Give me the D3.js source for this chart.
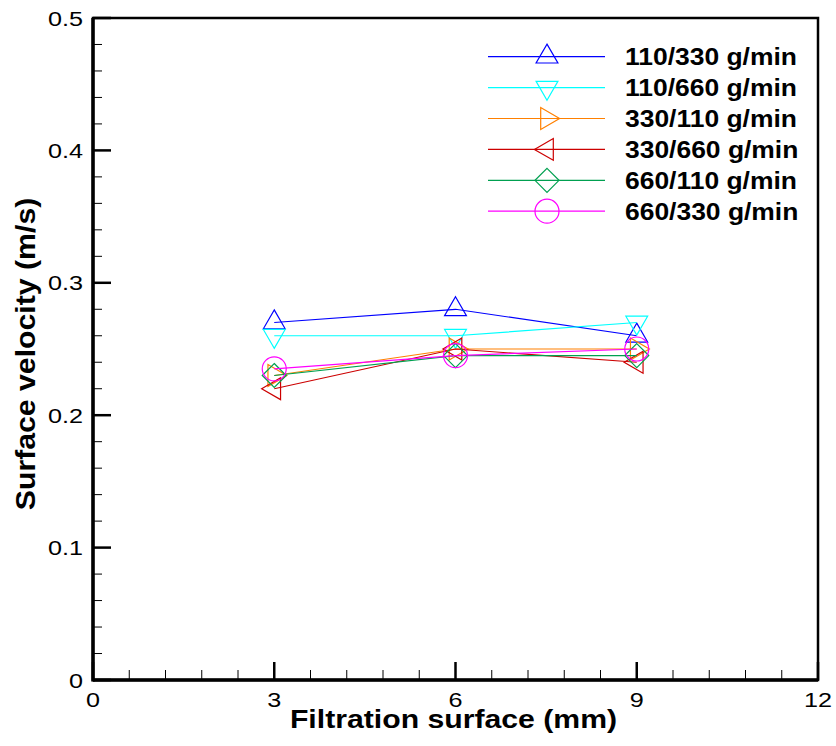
<!DOCTYPE html>
<html>
<head>
<meta charset="utf-8">
<script src="https://cdn.jsdelivr.net/npm/d3@7"></script>
<style>
  html, body { margin: 0; padding: 0; background: #fff; }
  svg { display: block; font-family: "Liberation Sans", Arial, sans-serif; }
</style>
</head>
<body>
<div id="chart"></div>
<script>
// Surface velocity vs filtration surface
const xValues   = [3, 6, 9];
const seriesNames = ["110/330 g/min", "110/660 g/min", "330/110 g/min", "330/660 g/min", "660/110 g/min", "660/330 g/min"];
const v110_330 = [0.27, 0.28, 0.26];
const v110_660 = [0.26, 0.26, 0.27];
const v330_110 = [0.23, 0.25, 0.25];
const v330_660 = [0.22, 0.25, 0.24];
const v660_110 = [0.23, 0.245, 0.245];
const v660_330 = [0.235, 0.245, 0.25];
const xTicks = [0, 3, 6, 9, 12];
const yTicks = [0, 0.1, 0.2, 0.3, 0.4, 0.5];

const seriesValues = [v110_330, v110_660, v330_110, v330_660, v660_110, v660_330];
const colors  = ["#0000ff", "#00ffff", "#ff8000", "#cc0000", "#00a050", "#ff00ff"];
const markers = ["up", "down", "right", "left", "diamond", "circle"];

/* ---------- helpers ---------- */
const R = 12.6;
function markerPath(type){
  const s = Math.sin(Math.PI/3) * R;
  const tri = pts => "M" + pts.map(p => p.join(",")).join("L") + "Z";
  switch(type){
    case "up":    return tri([[0,-R],[s,R/2],[-s,R/2]]);
    case "down":  return tri([[0,R],[s,-R/2],[-s,-R/2]]);
    case "right": return tri([[R,0],[-R/2,-s],[-R/2,s]]);
    case "left":  return tri([[-R,0],[R/2,-s],[R/2,s]]);
    case "diamond": return "M0,-12L12,0L0,12L-12,0Z";
    default: return "M12,0A12,12 0 1,1 -12,0A12,12 0 1,1 12,0Z";
  }
}

const width = 836, height = 746;
const margin = { top: 18, right: 18, bottom: 66, left: 93 };

const svg = d3.select("#chart").append("svg")
  .attr("width", width)
  .attr("height", height);

const x = d3.scaleLinear().domain([0, 12]).range([margin.left, width - margin.right]);
const y = d3.scaleLinear().domain([0, 0.5]).range([height - margin.bottom, margin.top]);

// minor ticks
const xMinor = d3.range(0, 12.001, 0.6).filter(v => Math.abs(v/3 - Math.round(v/3)) > 1e-6);
const yMinor = d3.range(0, 0.5001, 0.02).filter(v => Math.abs(v*10 - Math.round(v*10)) > 1e-6);

const gAxes = svg.append("g").attr("stroke", "#000");
gAxes.selectAll(".xminor").data(xMinor).join("line")
  .attr("x1", d => x(d)).attr("x2", d => x(d))
  .attr("y1", y(0)).attr("y2", y(0) - 10)
  .attr("stroke-width", 1);
gAxes.selectAll(".xmajor").data(xTicks).join("line")
  .attr("x1", d => x(d)).attr("x2", d => x(d))
  .attr("y1", y(0)).attr("y2", y(0) - 18)
  .attr("stroke-width", 2.5);
gAxes.selectAll(".yminor").data(yMinor).join("line")
  .attr("x1", x(0)).attr("x2", x(0) + 9)
  .attr("y1", d => y(d)).attr("y2", d => y(d))
  .attr("stroke-width", 1);
gAxes.selectAll(".ymajor").data(yTicks).join("line")
  .attr("x1", x(0)).attr("x2", x(0) + 18)
  .attr("y1", d => y(d)).attr("y2", d => y(d))
  .attr("stroke-width", 2.5);

// frame
svg.append("rect")
  .attr("x", x(0)).attr("y", y(0.5))
  .attr("width", x(12) - x(0)).attr("height", y(0) - y(0.5))
  .attr("fill", "none").attr("stroke", "#000").attr("stroke-width", 2.5);
svg.append("line")
  .attr("x1", x(0)).attr("x2", x(0)).attr("y1", y(0.5)).attr("y2", y(0) + 1.5)
  .attr("stroke", "#000").attr("stroke-width", 3.5);
svg.append("line")
  .attr("x1", x(0)).attr("x2", x(12)).attr("y1", y(0)).attr("y2", y(0))
  .attr("stroke", "#000").attr("stroke-width", 3.5);

// tick labels (font is drawn a bit wide, like the original)
svg.append("g").selectAll("text").data(yTicks).join("text")
  .attr("transform", d => `translate(${x(0) - 10},${y(d) + 7.5}) scale(1.2,1)`)
  .attr("text-anchor", "end")
  .attr("font-size", 21)
  .text(d => d === 0 ? "0" : d3.format(".1f")(d));

svg.append("g").selectAll("text").data(xTicks).join("text")
  .attr("transform", d => `translate(${x(d)},${y(0) + 27}) scale(1.2,1)`)
  .attr("text-anchor", "middle")
  .attr("font-size", 21)
  .text(d => d);

// axis titles
svg.append("text")
  .attr("transform", `translate(${(x(0) + x(12)) / 2 - 2},${height - 18}) scale(1.18,1)`)
  .attr("text-anchor", "middle")
  .attr("font-size", 25.6)
  .attr("font-weight", "bold")
  .text("Filtration surface (mm)");

svg.append("text")
  .attr("transform", `translate(35,354) rotate(-90) scale(1.12,1)`)
  .attr("text-anchor", "middle")
  .attr("font-size", 27)
  .attr("font-weight", "bold")
  .text("Surface velocity (m/s)");

// series
const line = d3.line().x((d, i) => x(xValues[i])).y(d => y(d));
const gSeries = svg.append("g");
seriesValues.forEach((vals, k) => {
  gSeries.append("path")
    .datum(vals)
    .attr("fill", "none")
    .attr("stroke", colors[k])
    .attr("stroke-width", 1.2)
    .attr("d", line);
  gSeries.append("g").selectAll("path")
    .data(vals)
    .join("path")
      .attr("transform", (d, i) => `translate(${x(xValues[i])},${y(d)})`)
      .attr("d", markerPath(markers[k]))
      .attr("fill", "none")
      .attr("stroke", colors[k])
      .attr("stroke-width", 1.2);
});

// legend
const legend = svg.append("g").attr("transform", "translate(488,56.7)");
const leg = legend.selectAll("g")
  .data(seriesNames)
  .join("g")
    .attr("transform", (d, i) => `translate(0,${i * 30.9})`);
leg.append("line")
  .attr("x1", 0).attr("x2", 117)
  .attr("stroke", (d, i) => colors[i])
  .attr("stroke-width", 1.2);
leg.append("path")
  .attr("transform", "translate(59,0)")
  .attr("d", (d, i) => markerPath(markers[i]))
  .attr("fill", "none")
  .attr("stroke", (d, i) => colors[i])
  .attr("stroke-width", 1.2);
leg.append("text")
  .attr("transform", "translate(137,8.3) scale(1.15,1)")
  .attr("font-size", 23)
  .attr("font-weight", "bold")
  .text(d => d);
</script>
</body>
</html>
